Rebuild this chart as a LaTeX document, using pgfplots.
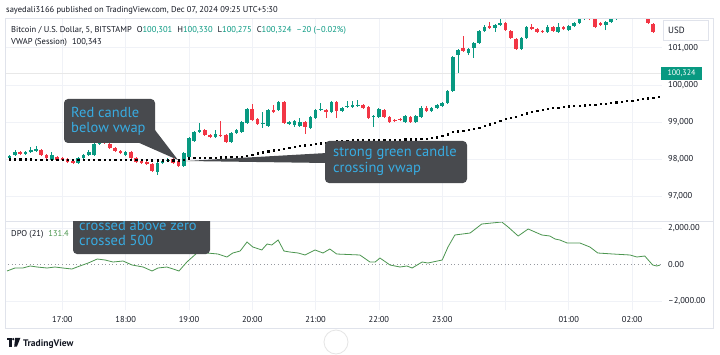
\documentclass[border=0pt]{standalone}
\usepackage{pgfplots}
\pgfplotsset{compat=1.18}
\usepackage{pgfplotstable}
\usepackage{fontspec}
\setmainfont{PT Sans}
\definecolor{upc}{RGB}{8,153,129}
\definecolor{dnc}{RGB}{242,54,69}
\definecolor{txt}{RGB}{19,23,34}
\definecolor{gridc}{RGB}{240,242,247}
\definecolor{framec}{RGB}{224,227,235}
\definecolor{boxc}{RGB}{72,74,78}
\definecolor{notec}{RGB}{56,172,226}
\definecolor{dpoc}{RGB}{76,150,80}
\definecolor{zeroc}{RGB}{150,153,160}

\pgfplotstableread{
n o h l c
0 98038 98119 98011 98092
1 98119 98253 98092 98199
3 98146 98226 98119 98199
4 98199 98334 98172 98253
5 98226 98360 98199 98280
8 97984 98199 97957 98119
13 97904 98065 97877 98038
14 98038 98146 98011 98119
15 98119 98253 98092 98199
16 98119 98441 98092 98414
17 98414 98656 98387 98602
22 98119 98226 98092 98199
28 97662 97930 97581 97904
29 97904 98011 97877 97957
30 97957 98038 97930 97984
33 97823 98199 97796 98172
34 98065 98602 98038 98575
35 98495 98763 98468 98737
36 98737 98979 98710 98790
39 98602 98790 98575 98683
42 98468 98737 98441 98710
43 98710 98817 98683 98790
44 98737 99032 98710 99005
45 98979 99382 98952 99355
48 98952 99274 98844 98979
49 98898 99355 98871 99328
51 99328 99570 99301 99543
53 98952 99032 98925 99005
54 98925 99059 98871 99032
55 98898 99113 98871 99005
57 98844 99167 98817 99140
58 99113 99355 99086 99328
59 99328 99516 99301 99355
61 99274 99570 99247 99543
63 99301 99409 99274 99382
64 99409 99570 99382 99436
65 99409 99570 99382 99462
66 99436 99597 99409 99462
69 99140 99194 98871 99167
70 99140 99382 99113 99355
75 99005 99194 98979 99167
77 99005 99194 98979 99167
78 99140 99436 99113 99382
80 99301 99409 99274 99382
81 99382 99489 99355 99462
82 99436 99543 99409 99516
83 99516 99866 99489 99839
84 99839 100779 99812 100753
85 100806 100968 100323 100941
87 100860 100995 100806 100968
88 100995 101156 100726 101129
89 101129 101478 101102 101452
90 101452 101613 101425 101559
92 101532 101640 101425 101613
93 101613 101774 101586 101667
97 100968 101290 100941 101263
98 101263 101586 101236 101559
102 101425 101613 101398 101559
104 101425 101667 101398 101559
106 101478 101613 101452 101586
107 101586 101693 101559 101667
108 101667 101828 101640 101774
109 101774 101908 101747 101828
113 101613 101720 101478 101693
114 101693 101801 101667 101774
115 101774 101855 101747 101828
116 101828 101962 101801 101882
118 101855 102016 101828 101962
}\up

\pgfplotstableread{
n o h l c
2 98199 98226 98119 98146
6 98253 98280 98092 98119
7 98119 98146 98011 98038
9 98065 98092 97957 97984
10 98038 98065 97957 97984
11 98011 98038 97904 97930
12 97957 97984 97877 97904
18 98575 98602 98414 98441
19 98414 98441 98280 98307
20 98307 98334 98199 98226
21 98226 98253 98146 98172
23 98199 98226 98011 98038
24 98038 98065 97904 97930
25 97957 97984 97877 97904
26 97930 97957 97850 97877
27 97877 97904 97662 97689
31 98011 98038 97877 97904
32 97957 97984 97796 97823
37 98790 98817 98629 98656
38 98656 98683 98575 98602
40 98656 99032 98602 98629
41 98656 98683 98441 98468
46 99355 99489 99032 99059
47 99086 99113 98925 98952
50 99328 99462 99247 99274
52 99543 99570 98952 98979
56 99005 99032 98683 98871
60 99328 99355 99113 99274
62 99543 99570 99113 99301
67 99462 99489 99355 99382
68 99409 99436 99086 99113
71 99328 99355 99113 99140
72 99140 99167 98979 99005
73 99059 99086 99005 99032
74 99086 99113 99032 99059
76 99140 99167 98979 99005
79 99382 99436 99274 99301
86 100995 101317 100887 100914
91 101586 101693 101505 101532
94 101667 101693 101452 101478
95 101452 101478 101236 101263
96 101236 101263 100941 100968
99 101559 101640 101478 101505
100 101505 101532 101398 101425
101 101452 101478 101398 101425
103 101559 101586 101425 101452
105 101559 101586 101478 101505
110 101828 101882 101747 101774
111 101774 101801 101532 101559
112 101667 101693 101586 101613
117 101882 101962 101828 101855
119 101962 102016 101882 101908
120 101908 101962 101801 101828
121 101828 101855 101640 101667
122 101640 101667 101398 101425
}\dn

\pgfplotstableread{
n v
0 98005
1 98005
2 98005
3 98005
4 98005
5 98000
6 98000
7 98000
8 97998
9 97995
10 97995
11 97992
12 97990
13 97990
14 97990
15 97990
16 97990
17 97992
18 97992
19 97992
20 97990
21 97990
22 97990
23 97988
24 97985
25 97985
26 97982
27 97980
28 97978
29 97978
30 97978
31 97978
32 97978
33 97985
34 98030
35 98038
36 98045
37 98050
38 98052
39 98055
40 98058
41 98060
42 98063
43 98068
44 98075
45 98105
46 98130
47 98165
48 98195
49 98222
50 98245
51 98265
52 98290
53 98315
54 98338
55 98360
56 98380
57 98400
58 98420
59 98437
60 98452
61 98470
62 98490
63 98500
64 98508
65 98513
66 98517
67 98520
68 98523
69 98525
70 98528
71 98530
72 98533
73 98535
74 98538
75 98540
76 98543
77 98546
78 98550
79 98560
80 98575
81 98598
82 98628
83 98680
84 98735
85 98758
86 98778
87 98798
88 98818
89 98855
90 98898
91 98945
92 98990
93 99040
94 99085
95 99118
96 99148
97 99195
98 99240
99 99280
100 99315
101 99342
102 99368
103 99382
104 99395
105 99412
106 99430
107 99440
108 99450
109 99456
110 99462
111 99475
112 99489
113 99502
114 99516
115 99535
116 99555
117 99570
118 99583
119 99603
120 99624
121 99645
122 99664
123 99677
}\vwap

\pgfplotstableread{
n v
-0.5 -356
1.0 -192
2.5 -192
3.9 -82
5.2 -137
7.1 -192
8.6 -137
10.1 -192
11.8 -247
13.3 -82
14.9 82
16.6 301
18.1 247
19.6 137
21.5 192
23.2 -27
25.3 -137
27.0 -356
28.1 -192
29.8 -137
31.0 -247
32.1 -356
33.6 137
35.5 630
37.4 630
39.5 575
41.2 411
42.3 630
43.7 740
45.0 1233
46.1 959
47.8 795
48.8 1123
49.7 1069
50.9 1343
52.0 740
53.1 685
54.7 630
56.0 521
57.9 795
59.4 630
60.7 849
62.0 575
66.4 521
68.3 137
69.3 137
70.2 356
72.1 -27
74.0 -137
75.3 -82
76.3 -192
78.2 137
79.3 82
82.0 247
83.1 959
84.4 1617
87.3 1726
89.5 2219
91.4 2274
93.3 2329
94.5 2055
96.4 1562
98.3 1945
100.9 1617
102.4 1562
103.4 1397
104.3 1343
105.7 1178
108.1 1178
110.0 959
111.5 630
114.4 575
117.6 521
118.9 411
120.4 466
121.9 -27
122.7 -82
123.3 -27
}\dpo

\newcommand{\tl}{\fontsize{8.5}{10}\selectfont}
\newcommand{\notefont}{\fontsize{14.5}{15}\selectfont\color{notec}}
\pgfplotsset{candle/.style={draw=none, mark=none, forget plot,
  error bars/y dir=plus, error bars/y explicit, error bars/error mark=none}}

\begin{document}
\begin{tikzpicture}[x=1pt,y=1pt]
\useasboundingbox (0,0) rectangle (720,354);
\fill[white] (0,0) rectangle (720,354);

% ---------- price panel ----------
\begin{axis}[
  at={(5pt,133pt)}, anchor=south west,
  scale only axis, width=657pt, height=202pt,
  xmin=-0.88, xmax=123.67, ymin=96344, ymax=101774,
  scaled y ticks=false, scaled x ticks=false,
  axis line style={draw=none}, tick style={draw=none}, major tick length=0pt,
  xtick={10,22,34,46,58,70,82,94,106,118}, xticklabels={},
  ytick={97000,98000,99000,100000,101000},
  yticklabels={{97,000},{98,000},{99,000},{100,000},{101,000}},
  yticklabel pos=right,
  yticklabel style={anchor=west, inner sep=0pt, xshift=6pt, font=\tl, text=txt},
  xmajorgrids, ymajorgrids, grid style={gridc, line width=0.7pt},
]
\addplot[gray!18, line width=0.7pt, forget plot] coordinates {(-1,100324) (124,100324)};
% wicks
\addplot[candle, error bars/error bar style={draw=upc, line width=0.8pt}]
  table[x=n, y=l, y error expr={\thisrow{h}-\thisrow{l}}] {\up};
\addplot[candle, error bars/error bar style={draw=dnc, line width=0.8pt}]
  table[x=n, y=l, y error expr={\thisrow{h}-\thisrow{l}}] {\dn};
% bodies
\addplot[candle, error bars/error bar style={draw=upc, line width=3.6pt}]
  table[x=n, y=o, y error expr={\thisrow{c}-\thisrow{o}}] {\up};
\addplot[candle, error bars/error bar style={draw=dnc, line width=3.6pt}]
  table[x=n, y=c, y error expr={\thisrow{o}-\thisrow{c}}] {\dn};
% vwap
\addplot[only marks, mark=square*, mark size=0.62pt, black, forget plot] table[x=n, y=v] {\vwap};
\end{axis}

% ---------- DPO panel ----------
\begin{axis}[
  at={(5pt,44pt)}, anchor=south west,
  scale only axis, width=657pt, height=89pt,
  xmin=-0.88, xmax=123.67, ymin=-2493, ymax=2384,
  scaled y ticks=false,
  axis line style={draw=none}, tick style={draw=none}, major tick length=0pt,
  xtick={10,22,34,46,58,70,82,94,106,118},
  xticklabels={17:00,18:00,19:00,20:00,21:00,22:00,23:00,{},01:00,02:00},
  xticklabel style={inner sep=0pt, yshift=-6pt, font=\tl, text=txt},
  ytick={-2000,2000},
  yticklabels={{–2,000.00},{2,000.00}},
  extra y ticks={0}, extra y tick labels={0.00},
  extra y tick style={grid=none},
  yticklabel pos=right,
  yticklabel style={anchor=west, inner sep=0pt, xshift=6pt, font=\tl, text=txt},
  xmajorgrids, ymajorgrids, grid style={gridc, line width=0.7pt},
]
\addplot[zeroc, line width=0.7pt, dash pattern=on 1pt off 2.6pt, forget plot] coordinates {(-1,0) (124,0)};
\addplot[dpoc, line width=0.8pt, forget plot] table[x=n, y=v] {\dpo};
\end{axis}

% ---------- frame ----------
\draw[framec, line width=0.7pt] (5,26) rectangle (713,336);
\draw[framec, line width=0.7pt] (5,133) -- (713,133);

% ---------- header texts ----------
\node[anchor=base west, inner sep=0, font=\tl, text=txt] at (6,341)
  {sayedali3166 published on TradingView.com, Dec 07, 2024 09:25 UTC+5:30};
\node[anchor=base west, inner sep=0, font=\tl, text=txt] at (11,321)
  {Bitcoin / U.S. Dollar, 5, BITSTAMP\hspace{5pt}O\textcolor{upc}{100,301}\hspace{5pt}H\textcolor{upc}{100,330}\hspace{5pt}L\textcolor{upc}{100,275}\hspace{5pt}C\textcolor{upc}{100,324}\hspace{5pt}\textcolor{upc}{–20 (–0.02\%)}};
\node[anchor=base west, inner sep=0, font=\tl, text=txt] at (11,309)
  {VWAP (Session)\hspace{5pt}100,343};
\node[anchor=base west, inner sep=0, font=\tl, text=txt] at (11,118)
  {DPO (21)\hspace{5pt}\textcolor{dpoc}{131.4}};

% USD box and last price label
\draw[framec, fill=white, line width=0.6pt] (663,314) rectangle (708,334);
\node[anchor=west, inner sep=0, font=\fontsize{9}{10}\selectfont, text=txt] at (668,323.5) {USD};
\fill[upc] (661,274) rectangle (702,287);
\node[inner sep=0, font=\fontsize{8}{9}\selectfont, text=white] at (681.5,280.5) {100,324};

% ---------- annotation 1 ----------
\fill[boxc] (136,212.5) -- (178,194) -- (155,224) -- cycle;
\fill[boxc, rounded corners=4pt] (64,211) rectangle (155,255);
\node[anchor=base west, inner sep=0, font=\notefont] at (71,236.5) {Red candle};
\node[anchor=base west, inner sep=0, font=\notefont] at (71,222) {below vwap};

% ---------- annotation 2 ----------
\fill[boxc] (186,193) -- (327,201) -- (327,191) -- cycle;
\fill[boxc, rounded corners=4pt] (325,171) rectangle (467,213);
\node[anchor=base west, inner sep=0, font=\notefont] at (333,197) {strong green candle};
\node[anchor=base west, inner sep=0, font=\notefont] at (333,182) {crossing vwap};

% ---------- annotation 3 (clipped by panel top) ----------
\begin{scope}
\clip (5,26) rectangle (662,133);
\fill[boxc, rounded corners=4pt] (73,100) rectangle (210,150);
\node[anchor=base west, inner sep=0, font=\notefont] at (79,124) {crossed above zero};
\node[anchor=base west, inner sep=0, font=\notefont] at (79,109) {crossed 500};
\end{scope}

% ---------- TradingView logo ----------
\fill[txt] (7,13.8) rectangle (11.6,16.2);
\fill[txt] (9.3,7.4) rectangle (11.6,16.2);
\fill[txt] (13.3,14.9) circle (1.25);
\fill[txt] (15.2,16.2) -- (20.4,16.2) -- (16.9,7.4) -- (14.2,7.4) -- cycle;
\node[anchor=base west, inner sep=0, font=\fontsize{9.5}{10}\selectfont\bfseries, text=txt] at (23,8) {TradingView};
\draw[gray!20, line width=0.8pt] (336,12) circle (12);
\end{tikzpicture}
\end{document}
